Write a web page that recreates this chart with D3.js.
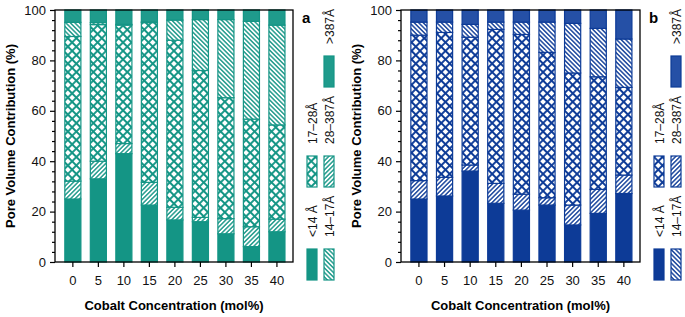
<!DOCTYPE html>
<html>
<head>
<meta charset="utf-8">
<script src="https://cdn.jsdelivr.net/npm/d3@7"></script>
<style>
  body { margin: 0; background: #fff; }
  svg { display: block; }
</style>
</head>
<body>
<div id="container"></div>
<script>
let w = 685;
let h = 317;

// x categories + series names
let concentrations = [0, 5, 10, 15, 20, 25, 30, 35, 40];
let poreRanges = ['<14 Å', '14–17Å', '17–28Å', '28–387Å', '>387Å'];
let yTicks = [0, 20, 40, 60, 80, 100];

// panel a, percent of pore volume per range
let aBelow14 = [25.0, 33.0, 43.0, 22.6, 16.7, 16.0, 11.2, 6.1, 12.0];
let a14to17 = [7.1, 7.0, 4.0, 9.0, 5.0, 1.7, 6.0, 7.9, 5.0];
let a17to28 = [57.4, 54.2, 47.0, 63.4, 66.3, 58.3, 48.0, 42.7, 37.4];
let a28to387 = [5.6, 0.8, 0.3, 0.3, 8.0, 20.2, 31.0, 38.8, 39.6];
let aAbove387 = [4.9, 5.0, 5.7, 4.7, 4.0, 3.8, 3.8, 4.5, 6.0];

// panel b
let bBelow14 = [25.0, 26.2, 36.1, 23.3, 20.6, 22.6, 14.7, 19.3, 27.2];
let b14to17 = [7.3, 7.4, 2.4, 7.9, 6.3, 2.9, 7.9, 9.5, 7.3];
let b17to28 = [57.7, 57.5, 50.7, 61.1, 63.4, 57.7, 52.4, 44.7, 34.8];
let b28to387 = [5.2, 4.1, 5.1, 2.9, 4.9, 12.0, 19.7, 19.2, 19.2];
let bAbove387 = [4.8, 4.8, 5.7, 4.8, 4.8, 4.8, 5.3, 7.3, 11.5];

let font = "Arial, 'Liberation Sans', sans-serif";

let viz = d3.select('#container')
  .append('svg')
  .attr('width', w)
  .attr('height', h)
  .style('background-color', 'white');

let defs = viz.append('defs');

// hatch patterns: lines drawn straight then rotated
function addHatch(id, color, angle, size, lineW, cross) {
  let p = defs.append('pattern')
    .attr('id', id)
    .attr('patternUnits', 'userSpaceOnUse')
    .attr('width', size)
    .attr('height', size)
    .attr('patternTransform', 'rotate(' + angle + ')');
  p.append('rect').attr('width', size).attr('height', size).attr('fill', 'white');
  let d = 'M' + size / 2 + ',0V' + size;
  if (cross) d += 'M0,' + size / 2 + 'H' + size;
  p.append('path').attr('d', d).attr('stroke', color).attr('stroke-width', lineW).attr('fill', 'none');
}

function drawPanel(opts) {
  let left = opts.left;
  let right = opts.right;
  let top = 10;
  let bottom = 262;
  let color = opts.color;
  let id = opts.id;

  addHatch(id + '-up', color, 45, 3.2, 1.4, false);
  addHatch(id + '-cross', color, 45, 6, 1.9, true);
  addHatch(id + '-down', color, -45, 3.2, 1.4, false);

  let fills = [color, 'url(#' + id + '-up)', 'url(#' + id + '-cross)', 'url(#' + id + '-down)', opts.topColor];

  let rows = concentrations.map(function(c, i) {
    let row = { conc: c };
    poreRanges.forEach(function(r, k) { row[r] = opts.series[k][i]; });
    return row;
  });
  let stacked = d3.stack().keys(poreRanges)(rows);

  let xScale = d3.scaleBand().domain(concentrations).range([left, right])
    .paddingInner(0.37).paddingOuter(0.35).align(0.55);
  let yScale = d3.scaleLinear().domain([0, 100]).range([bottom, top]);

  let g = viz.append('g').attr('class', 'panel-' + id);

  let layers = g.selectAll('.layer').data(stacked).enter()
    .append('g')
    .attr('class', 'layer')
    .attr('fill', function(d, i) { return fills[i]; });

  layers.selectAll('rect').data(function(d) { return d; }).enter()
    .append('rect')
    .attr('x', function(d) { return xScale(d.data.conc); })
    .attr('y', function(d) { return yScale(d[1]); })
    .attr('width', xScale.bandwidth())
    .attr('height', function(d) { return yScale(d[0]) - yScale(d[1]); })
    .attr('stroke', color)
    .attr('stroke-width', 1.2);

  // frame
  g.append('rect')
    .attr('x', left).attr('y', top)
    .attr('width', right - left).attr('height', bottom - top)
    .attr('fill', 'none').attr('stroke', 'black').attr('stroke-width', 1.3);

  // y axis major + minor
  let yAxis = d3.axisLeft(yScale).tickValues(yTicks).tickSize(5).tickPadding(4).tickSizeOuter(0);
  let yAxisGroup = g.append('g').attr('transform', 'translate(' + left + ',0)').call(yAxis);
  let minor = d3.range(0, 101, 4).filter(function(v) { return v % 20 != 0; });
  let yMinor = d3.axisLeft(yScale).tickValues(minor).tickSize(3).tickFormat('').tickSizeOuter(0);
  let yMinorGroup = g.append('g').attr('transform', 'translate(' + left + ',0)').call(yMinor);

  let xAxis = d3.axisBottom(xScale).tickSize(5).tickPadding(9).tickSizeOuter(0);
  let xAxisGroup = g.append('g').attr('transform', 'translate(0,' + bottom + ')').call(xAxis);

  [yAxisGroup, yMinorGroup, xAxisGroup].forEach(function(ax) {
    ax.select('.domain').remove();
    ax.selectAll('line').attr('stroke', 'black').attr('stroke-width', 1.2);
    ax.selectAll('text').attr('font-family', font).attr('font-size', 13).attr('fill', '#111');
  });

  // axis titles
  g.append('text')
    .attr('x', (left + right) / 2).attr('y', 310)
    .attr('text-anchor', 'middle')
    .attr('font-family', font).attr('font-size', 13).attr('font-weight', 'bold')
    .text('Cobalt Concentration (mol%)');
  g.append('text')
    .attr('transform', 'translate(' + (left - 40) + ',' + (top + bottom) / 2 + ') rotate(-90)')
    .attr('text-anchor', 'middle')
    .attr('font-family', font).attr('font-size', 13).attr('font-weight', 'bold')
    .text('Pore Volume Contribution (%)');

  // panel letter
  g.append('text')
    .attr('x', right + 9).attr('y', 23)
    .attr('font-family', font).attr('font-size', 15).attr('font-weight', 'bold')
    .text(id);

  // legend, laid out sideways and turned -90deg
  let slots = [
    { sx: 0, sy: 0, lx: 43 },
    { sx: 0, sy: 17, lx: 43 },
    { sx: 93, sy: 0, lx: 136 },
    { sx: 93, sy: 17, lx: 136 },
    { sx: 193, sy: 17, lx: 236 }
  ];
  let legend = g.append('g')
    .attr('transform', 'translate(' + (right + 14) + ',280) rotate(-90)');
  let items = legend.selectAll('.item').data(poreRanges).enter()
    .append('g').attr('class', 'item');
  items.append('rect')
    .attr('x', function(d, i) { return slots[i].sx; })
    .attr('y', function(d, i) { return slots[i].sy; })
    .attr('width', 31).attr('height', 10)
    .attr('fill', function(d, i) { return fills[i]; })
    .attr('stroke', color).attr('stroke-width', 1.2);
  items.append('text')
    .attr('x', function(d, i) { return slots[i].lx; })
    .attr('y', function(d, i) { return slots[i].sy + 10; })
    .attr('font-family', font).attr('font-size', 12).attr('fill', '#111')
    .text(function(d) { return d; });
}

drawPanel({
  id: 'a', left: 55, right: 293, color: '#149585', topColor: '#1f9b8c',
  series: [aBelow14, a14to17, a17to28, a28to387, aAbove387]
});
drawPanel({
  id: 'b', left: 401, right: 640, color: '#0d3b97', topColor: '#2550a6',
  series: [bBelow14, b14to17, b17to28, b28to387, bAbove387]
});
</script>
</body>
</html>
